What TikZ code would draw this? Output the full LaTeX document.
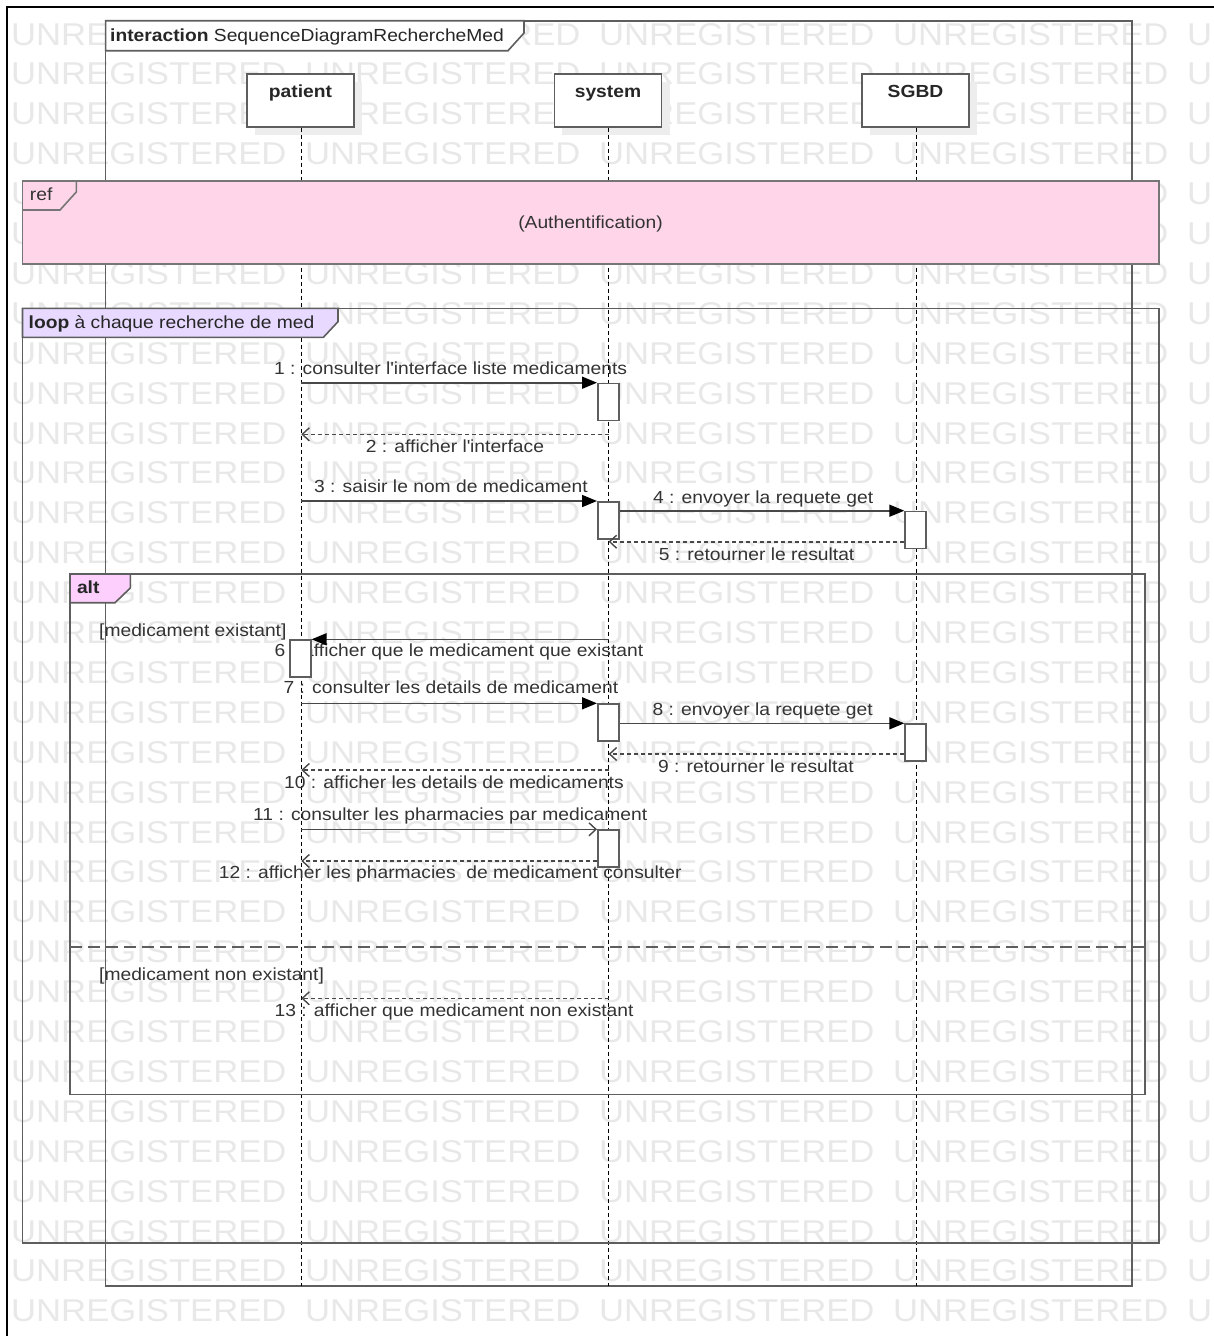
\documentclass[tikz,border=0pt]{standalone}
\usepackage{fontspec}
\setmainfont[FakeStretch=1.1]{Liberation Sans}
\usetikzlibrary{arrows.meta}

\definecolor{framegray}{HTML}{5E5E5E}
\definecolor{msggray}{HTML}{484848}
\definecolor{txtgray}{HTML}{333333}
\definecolor{wmgray}{HTML}{E8E8E8}
\definecolor{shadowgray}{HTML}{EDEDED}
\definecolor{refpink}{HTML}{FFD6E9}
\definecolor{looplav}{HTML}{E7D9FF}
\definecolor{altpink}{HTML}{FCCFFC}

\newcommand{\PX}{301.3}
\newcommand{\SX}{608.6}
\newcommand{\DX}{916.4}

\begin{document}
\begin{tikzpicture}[x=1pt,y=-1pt,
  wm/.style={anchor=base west, inner sep=0pt, text=wmgray, font=\fontsize{31.5}{34}\selectfont},
  frameline/.style={draw=framegray, line width=1.6pt},
  lifeline/.style={draw=black, line width=1.3pt, dash pattern=on 4pt off 3pt},
  headbox/.style={draw=framegray, fill=white, line width=1.6pt, minimum width=107pt, minimum height=53pt, inner sep=0pt},
  headtxt/.style={anchor=base, inner sep=0pt, text=black!85, font=\fontsize{17.5}{20}\selectfont\bfseries},
  actbox/.style={draw=framegray, fill=white, line width=1.6pt, minimum width=21pt, minimum height=37pt, inner sep=0pt, anchor=north},
  lbl/.style={anchor=base west, inner sep=0pt, text=txtgray, font=\fontsize{17.5}{20}\selectfont},
  msg/.style={draw=msggray, line width=1.6pt},
  sync/.style={msg, -{Triangle[length=15pt,width=12pt,color=black]}},
  async/.style={msg, -{Straight Barb[length=7pt,width=13pt,line width=1.4pt]}},
  reply/.style={msg, dash pattern=on 4pt off 3pt, -{Straight Barb[length=7pt,width=13pt,line width=1.4pt]}},
  guardsep/.style={draw=framegray, line width=2pt, dash pattern=on 12pt off 6pt}
]
\useasboundingbox (0,0) rectangle (1214,1336);

% background watermark rows
\begin{scope}
  \clip (0,0) rectangle (1214,1336);
  \foreach \k in {0,...,32}{
    \foreach \j in {0,...,4}{
      \node[wm] (wm-\k-\j) at ({11+294*\j},{45+39.9*\k}) {UNREGISTERED};
    }
  }
\end{scope}

% window border
\draw[line width=2pt, black] (6.5,1336) -- (6.5,7) -- (1214,7);

% interaction frame
\draw[frameline] (105.6,20.7) rectangle (1131.8,1285.7);

% lifelines
\coordinate (pl-end) at (\PX,1285.7);
\coordinate (sl-end) at (\SX,1285.7);
\coordinate (dl-end) at (\DX,1285.7);

% lifeline heads with their shadows
\fill[shadowgray] (254.7,82) rectangle (361.9,134.7);
\fill[shadowgray] (562.4,82) rectangle (669.5,134.7);
\fill[shadowgray] (870,82) rectangle (976.9,134.7);
\node[headbox] (patient) at (300.3,100.3) {};
\node[headbox] (system) at (608,100.3) {};
\node[headbox] (sgbd) at (915.5,100.3) {};
\node[headtxt] (patient-name) at (300.5,97) {patient};
\node[headtxt] (system-name) at (608,97) {system};
\node[headtxt] (sgbd-name) at (915.5,97) {SGBD};

\draw[lifeline] (patient.south -| \PX,0) -- (pl-end);
\draw[lifeline] (system.south -| \SX,0) -- (sl-end);
\draw[lifeline] (sgbd.south -| \DX,0) -- (dl-end);

% interaction title tab
\filldraw[frameline, fill=white] (105.6,20.7) -- (524,20.7) -- (524,33) -- (508,50.7) -- (105.6,50.7) -- cycle;
\node[lbl, text=black!85] (title) at (110,41) {\textbf{interaction} SequenceDiagramRechercheMed};

% ref fragment
\filldraw[draw=framegray!85, line width=1.6pt, fill=refpink] (22.5,180.7) rectangle (1158.8,264);
\draw[draw=framegray!85, line width=1.6pt] (22.5,210) -- (60,210) -- (76.3,192) -- (76.3,180.7);
\node[lbl] (ref-kw) at (29.7,200) {ref};
\node[anchor=base, inner sep=0pt, text=txtgray, font=\fontsize{17.5}{20}\selectfont] (ref-name) at (590.5,228) {(Authentification)};

% loop fragment
\draw[frameline] (22.5,308.3) rectangle (1158.8,1242.7);
\filldraw[frameline, fill=looplav] (22.5,308.3) -- (338,308.3) -- (338,321.7) -- (323.4,337.3) -- (22.5,337.3) -- cycle;
\node[lbl, text=black!85] (loop-kw) at (28.5,328.3) {\textbf{loop} à chaque recherche de med};

% alt fragment
\draw[frameline] (70,574) rectangle (1145,1094.3);
\filldraw[frameline, fill=altpink] (70,574) -- (130.3,574) -- (130.3,588) -- (115,602.7) -- (70,602.7) -- cycle;
\node[lbl, text=black!85] (alt-kw) at (76.8,593) {\textbf{alt}};
\draw[guardsep] (70,946.7) -- (1145,946.7);
\node[lbl] (guard1) at (99,636.7) {[medicament existant]};
\node[lbl] (guard2) at (99,980) {[medicament non existant]};

% message labels
\node[lbl] (l1) at (274,374) {1 : consulter l\textquotesingle interface liste medicaments};
\node[lbl] (l2) at (365.7,452.7) {2 : afficher l\textquotesingle interface};
\node[lbl] (l3) at (314,492.7) {3 : saisir le nom de medicament};
\node[lbl] (l4) at (652.9,503) {4 : envoyer la requete get};
\node[lbl] (l5) at (658.7,560) {5 : retourner le resultat};
\node[lbl] (l6) at (274.5,656.7) {6 : afficher que le medicament que existant};
\node[lbl] (l7) at (283.5,693.3) {7 : consulter les details de medicament};
\node[lbl] (l8) at (652.5,715) {8 : envoyer la requete get};
\node[lbl] (l9) at (658,772.3) {9 : retourner le resultat};
\node[lbl] (l10) at (284,788.3) {10 : afficher les details de medicaments};
\node[lbl] (l11) at (253,820) {11 : consulter les pharmacies par medicament};
\node[lbl] (l12) at (218.7,878.3) {12 : afficher les pharmacies\ \ de medicament consulter};
\node[lbl] (l13) at (274.5,1016.7) {13 : afficher que medicament non existant};

% activation bars
\node[actbox] (a1) at (608.3,382.7) {};
\node[actbox] (a3) at (608.3,501) {};
\node[actbox] (a4) at (915.6,510.7) {};
\node[actbox] (a6) at (300.3,639.3) {};
\node[actbox] (a7) at (608.3,703.3) {};
\node[actbox] (a8) at (915.6,723.3) {};
\node[actbox] (a11) at (608.3,829.3) {};

% message end points on the lifelines
\coordinate (m1) at (\PX,382.7);
\coordinate (m2s) at (\SX,434.3);
\coordinate (m2e) at (\PX,434.3);
\coordinate (m3) at (\PX,501);
\coordinate (m5e) at (\SX,541.7);
\coordinate (m6) at (\SX,639.3);
\coordinate (m7) at (\PX,703.3);
\coordinate (m9e) at (\SX,754);
\coordinate (m10s) at (\SX,770);
\coordinate (m10e) at (\PX,770);
\coordinate (m11) at (\PX,829.3);
\coordinate (m12e) at (\PX,861);
\coordinate (m13s) at (\SX,998.3);
\coordinate (m13e) at (\PX,998.3);

% messages
\draw[sync] (m1) -- (a1.north west);
\draw[reply] (m2s) -- (m2e);
\draw[sync] (m3) -- (a3.north west);
\draw[sync] (a3.north east |- 0,510.7) -- (a4.north west);
\draw[reply] (a4.west |- 0,541.7) -- (m5e);
\draw[sync] (m6) -- (a6.north east);
\draw[sync] (m7) -- (a7.north west);
\draw[sync] (a7.north east |- 0,723.3) -- (a8.north west);
\draw[reply] (a8.west |- 0,754) -- (m9e);
\draw[reply] (m10s) -- (m10e);
\draw[async] (m11) -- (a11.north west);
\draw[reply] (a11.west |- 0,861) -- (m12e);
\draw[reply] (m13s) -- (m13e);

\end{tikzpicture}
\end{document}
